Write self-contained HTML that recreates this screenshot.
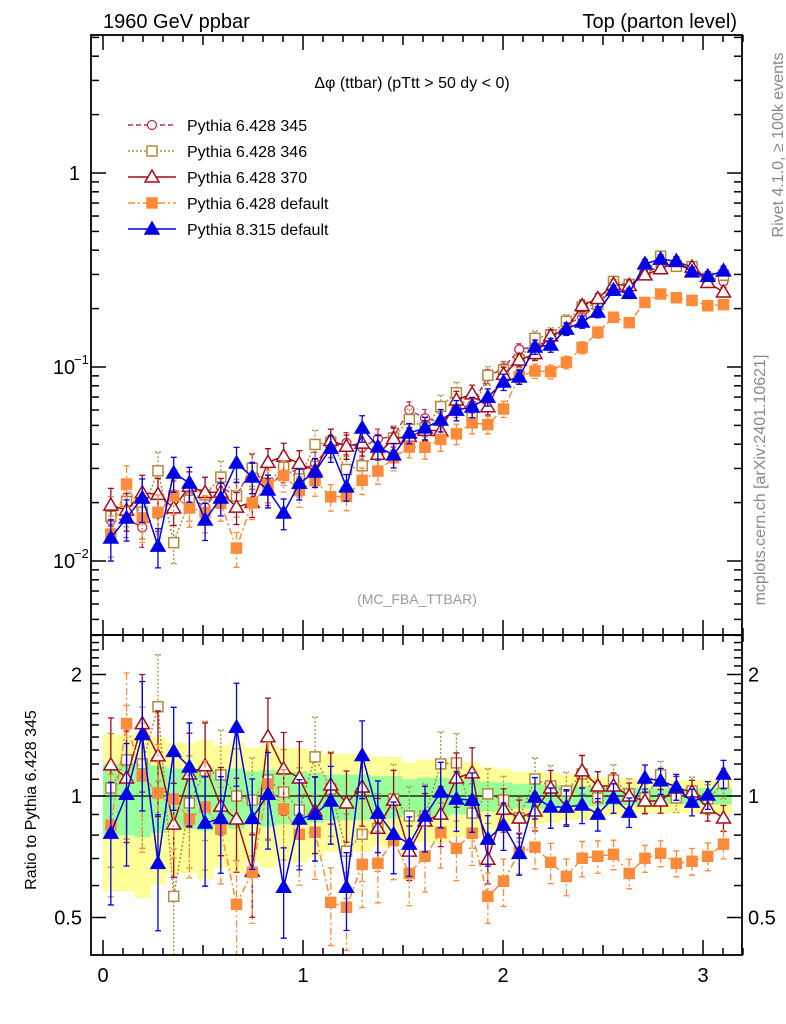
<!DOCTYPE html>
<html><head><meta charset="utf-8"><style>
body{margin:0;background:#fff;}
svg{display:block;font-family:"Liberation Sans",sans-serif;}
</style></head><body>
<svg id="c" width="786" height="1024" viewBox="0 0 786 1024">
<defs>
<clipPath id="cm"><rect x="91" y="35" width="651" height="600"/></clipPath>
<clipPath id="cr"><rect x="91" y="635" width="651" height="320"/></clipPath>
</defs>
<g id="bands" clip-path="url(#cr)"></g>
<g id="gm" clip-path="url(#cm)"></g>
<g id="gr" clip-path="url(#cr)"></g>
<g id="axes"></g>
<text x="103" y="28" font-size="20">1960 GeV ppbar</text>
<text x="737" y="28" font-size="20" text-anchor="end">Top (parton level)</text>
<text x="412" y="88" font-size="16" text-anchor="middle">Δφ (ttbar) (pTtt &gt; 50 dy &lt; 0)</text>
<text x="417" y="604" font-size="14" fill="#999" text-anchor="middle">(MC_FBA_TTBAR)</text>
<text transform="translate(783,145) rotate(-90)" font-size="16" fill="#888" text-anchor="middle">Rivet 4.1.0, ≥ 100k events</text>
<text transform="translate(765,480) rotate(-90)" font-size="16" fill="#888" text-anchor="middle">mcplots.cern.ch [arXiv:2401.10621]</text>
<text transform="translate(36,800) rotate(-90)" font-size="16" text-anchor="middle">Ratio to Pythia 6.428 345</text>
<g id="legend"></g>
</svg>
<script>
const ref345=[0.01625,0.0165,0.01488,0.01753,0.02204,0.0214,0.01898,0.0240,0.02162,0.0308,0.0230,0.02975,0.0287,0.0319,0.0393,0.0406,0.0385,0.0427,0.0438,0.0601,0.0544,0.0521,0.0610,0.0637,0.0895,0.0988,0.1232,0.1276,0.1382,0.1672,0.1796,0.2129,0.2518,0.2632,0.3069,0.330,0.334,0.320,0.292,0.276];
const ratio346=[1.047,1.229,1.201,1.664,0.564,0.961,1.154,1.128,1,0.977,1.096,1.023,0.923,1.25,1.041,0.730,0.804,0.832,0.983,0.892,0.892,1.201,1.208,0.907,1.012,0.977,0.882,1.102,1.059,1.029,1.134,0.989,1.096,1.012,0.989,1.128,0.989,1.029,0.983,1.077];
const ratio370=[1.194,1.108,1.511,1.257,0.852,1.134,1.188,0.944,0.877,0.651,1.402,1.167,1.108,0.918,1.065,0.961,1.053,0.832,0.977,0.730,0.867,0.902,1.108,1.141,0.697,0.928,0.882,0.918,1.047,0.939,1.154,1.059,1.059,1.0,0.972,0.972,1.047,1.023,0.934,0.882];
const ratioDef=[0.847,1.511,1.121,1.017,0.983,0.877,0.939,0.828,0.539,0.647,1.071,0.928,0.804,0.813,0.545,0.530,0.677,0.681,0.777,0.643,0.709,0.813,0.742,0.809,0.564,0.615,0.726,0.747,0.685,0.632,0.701,0.709,0.717,0.643,0.701,0.721,0.681,0.689,0.709,0.76];
const ratioP8=[0.809,1.01,1.42,0.681,1.29,1.18,0.857,0.88,1.48,0.88,1.01,0.594,0.877,0.902,0.972,0.594,1.26,0.907,0.804,0.76,0.892,1.023,0.983,0.977,0.782,0.847,0.721,0.994,0.939,0.939,0.95,0.902,0.989,0.912,1.108,1.09,1.053,0.966,1.006,1.134];
const relErr=[0.20,0.20,0.21,0.19,0.17,0.17,0.18,0.16,0.17,0.15,0.16,0.15,0.15,0.14,0.13,0.13,0.13,0.12,0.12,0.10,0.11,0.11,0.10,0.10,0.085,0.08,0.07,0.07,0.068,0.062,0.06,0.055,0.05,0.05,0.046,0.044,0.044,0.045,0.047,0.048];
const xTicks=[0,1,2,3];
const mainTickLabels=["1","10","10"];
const ratioTickVals=[0.5,1,2];

const NS="http://www.w3.org/2000/svg";
const N=ref345.length, W=Math.PI/N;
const X=v=>103+200*v;
const YM=v=>173-194*Math.log10(v);
const YR=v=>796-121.5*Math.log2(v);
function mk(t,a,p){const e=document.createElementNS(NS,t);for(const k in a)e.setAttribute(k,a[k]);p.appendChild(e);return e;}
const gm=document.getElementById('gm'),gr=document.getElementById('gr'),bands=document.getElementById('bands'),ax=document.getElementById('axes'),lg=document.getElementById('legend');

for(let i=0;i<N;i++){
  const x0=X(i*W),x1=X((i+1)*W),e=relErr[i];
  const y=mk('rect',{x:x0,y:YR(1+2.1*e),width:x1-x0+0.5,height:YR(1-2.1*e)-YR(1+2.1*e),fill:'#ffff99'},bands);
  
}
for(let i=0;i<N;i++){
  const x0=X(i*W),x1=X((i+1)*W),e=relErr[i];
  const g=mk('rect',{x:x0,y:YR(1+e),width:x1-x0+0.5,height:YR(1-e)-YR(1+e),fill:'#99ff99'},bands);
  
}
const one=mk('line',{x1:91,x2:742,y1:YR(1),y2:YR(1),stroke:'#000','stroke-width':1.2},gr);


const series=[
 {name:'Pythia 6.428 345',key:'p345',r:ref345.map(()=>1),col:'#c4304c',dash:'5,3',mk:'circle',fill:false,ef:1.0,ratio:false},
 {name:'Pythia 6.428 346',key:'p346',r:ratio346,col:'#b08840',dash:'2,2',mk:'square',fill:false,ef:1.3,ratio:true},
 {name:'Pythia 6.428 370',key:'p370',r:ratio370,col:'#a00c1c',dash:'',mk:'tri',fill:false,ef:1.1,ratio:true},
 {name:'Pythia 6.428 default',key:'pdef',r:ratioDef,col:'#ff8a3a',dash:'7,3,2,3',mk:'square',fill:true,ef:1.2,ratio:true},
 {name:'Pythia 8.315 default',key:'p8',r:ratioP8,col:'#0000e6',dash:'',mk:'tri',fill:true,ef:1.2,ratio:true}
];
function marker(s,x,y,p){
  let e;const f=s.fill?s.col:'#fff';
  if(s.mk==='circle')e=mk('circle',{cx:x,cy:y,r:4.5,fill:f,stroke:s.col,'stroke-width':1.3},p);
  else if(s.mk==='square')e=mk('rect',{x:x-5,y:y-5,width:10,height:10,fill:f,stroke:s.col,'stroke-width':1.5},p);
  else e=mk('polygon',{points:`${x},${y-7} ${x-7},${y+5} ${x+7},${y+5}`,fill:f,stroke:s.col,'stroke-width':1.5},p);
  return e;
}
function drawSeries(s,g,vals,errs,Y){
  const grp=mk('g',{},g);
  
  
  const pts=vals.map((v,i)=>[X((i+0.5)*W),Y(v)]);
  const ln=mk('polyline',{points:pts.map(p=>p.join(',')).join(' '),fill:'none',stroke:s.col,'stroke-width':1.5,'stroke-dasharray':s.dash},grp);
  
  
  vals.forEach((v,i)=>{
    const x=pts[i][0],ya=Y(v+errs[i]),yb=Y(Math.max(v-errs[i],v*0.2));
    const eb=mk('path',{d:`M${x},${ya}V${yb}M${x-3},${ya}h6M${x-3},${yb}h6`,stroke:s.col,'stroke-width':1.3,fill:'none','stroke-dasharray':s.dash},grp);
    
    
    const m=marker(s,x,pts[i][1],grp);
    
    
  });
}
series.forEach(s=>{
  const vals=ref345.map((r,i)=>r*s.r[i]);
  drawSeries(s,gm,vals,vals.map((v,i)=>v*relErr[i]*s.ef),YM);
  if(s.ratio)drawSeries(s,gr,s.r,s.r.map((v,i)=>v*relErr[i]*s.ef*1.4),YR);
});

series.forEach((s,k)=>{
  const y=125+26*k;
  const g=mk('g',{},lg);
  
  
  mk('line',{x1:128,x2:176,y1:y,y2:y,stroke:s.col,'stroke-width':1.5,'stroke-dasharray':s.dash},g);
  marker(s,152,y,g);
  const t=mk('text',{x:187,y:y+6,'font-size':16},g);t.textContent=s.name;
});

function L(x1,y1,x2,y2){mk('line',{x1,y1,x2,y2,stroke:'#000','stroke-width':1.5},ax);}
mk('rect',{x:91,y:35,width:651,height:600,fill:'none',stroke:'#000','stroke-width':1.8},ax);
mk('rect',{x:91,y:635,width:651,height:320,fill:'none',stroke:'#000','stroke-width':1.8},ax);
for(let t=0;t<=32;t++){
  const v=t/10,x=X(v),len=(t%10===0)?15:(t%5===0?10:7);
  [[35,1],[635,-1],[635,1],[955,-1]].forEach(([y,d])=>L(x,y,x,y+d*len));
}
xTicks.forEach(v=>{const t=mk('text',{x:X(v),y:982,'font-size':20,'text-anchor':'middle'},ax);t.textContent=String(v);
  });
for(let d=-3;d<=0;d++){for(let m=1;m<=9;m++){const v=m*Math.pow(10,d),y=YM(v);if(y<35||y>635)continue;
  const len=m===1?15:8;L(91,y,91+len,y);L(742,y,742-len,y);}}
mainTickLabels.forEach((lab,k)=>{
  const y=YM(Math.pow(10,-k));
  const t=mk('text',{x:k===0?80:64,y:y+7,'font-size':20,'text-anchor':k===0?'end':'middle'},ax);t.textContent=lab;
  
  if(k>0){const s=mk('text',{x:74,y:y-3,'font-size':13},ax);s.textContent='−'+k;}
});
[0.4,0.5,0.6,0.7,0.8,0.9,1,1.1,1.2,1.3,1.4,1.5,1.6,1.7,1.8,1.9,2,2.1,2.2,2.3,2.4,2.5].forEach(v=>{
  const y=YR(v);if(y<635||y>955)return;const len=(v===0.5||v===1||v===2)?15:8;L(91,y,91+len,y);L(742,y,742-len,y);});
ratioTickVals.forEach(v=>{
  const y=YR(v);
  const a=mk('text',{x:82,y:y+7,'font-size':20,'text-anchor':'end'},ax);a.textContent=String(v);
  
  const b=mk('text',{x:748,y:y+7,'font-size':20},ax);b.textContent=String(v);
  
});
</script>
</body></html>
